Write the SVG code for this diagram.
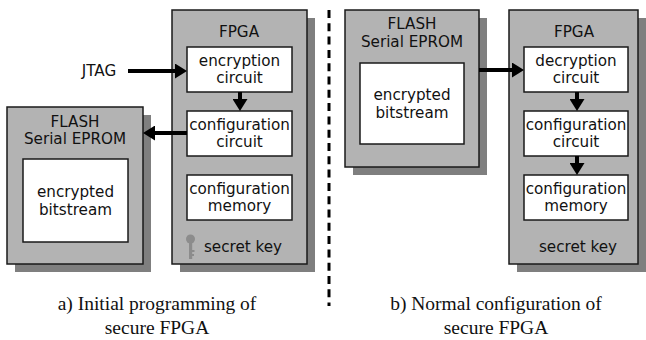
<svg xmlns="http://www.w3.org/2000/svg" width="646" height="340" viewBox="0 0 646 340">
<style>
.sh{fill:#7f7f7f}
.box{fill:#b3b3b3;stroke:#1a1a1a;stroke-width:1.5}
.in{fill:#ffffff;stroke:#1a1a1a;stroke-width:1.5}
.t{font-family:"DejaVu Sans",Verdana,sans-serif;font-size:15.2px;fill:#111;text-anchor:middle}
.cap{font-family:"Liberation Serif","Times New Roman",serif;font-size:19.5px;fill:#111;text-anchor:middle}
.ar{stroke:#000;stroke-width:4;fill:none;marker-end:url(#ah)}
</style>
<defs>
<marker id="ah" markerUnits="userSpaceOnUse" markerWidth="12" markerHeight="15" refX="0" refY="7.5" orient="auto">
<path d="M0,0 L12,7.5 L0,15 Z" fill="#000"/>
</marker>
</defs>
<rect width="646" height="340" fill="#fff"/>

<g id="fpga-a">
<rect class="sh" x="180" y="18" width="135" height="254"/>
<rect class="box" x="172" y="10" width="135" height="254"/>
<text class="t" x="239" y="37">FPGA</text>
</g>
<g id="enc-circuit">
<rect class="in" x="187" y="47" width="105" height="45"/>
<text class="t" x="239.5" y="66">encryption</text>
<text class="t" x="239.5" y="83">circuit</text>
</g>
<g id="cfg-circuit-a">
<rect class="in" x="187" y="111" width="105" height="45"/>
<text class="t" x="239.5" y="130">configuration</text>
<text class="t" x="239.5" y="147">circuit</text>
</g>
<g id="cfg-memory-a">
<rect class="in" x="187" y="175" width="105" height="45"/>
<text class="t" x="239.5" y="194">configuration</text>
<text class="t" x="239.5" y="211">memory</text>
</g>
<g id="key-a">
<circle cx="190.5" cy="239" r="4.5" fill="#8c8c8c"/>
<rect x="189" y="242" width="3.2" height="17" fill="#8c8c8c"/>
<rect x="192" y="250" width="2.5" height="2" fill="#8c8c8c"/>
<rect x="192" y="254" width="2" height="2" fill="#8c8c8c"/>
<text class="t" x="243" y="252">secret key</text>
</g>
<g id="flash-a">
<rect class="sh" x="15" y="115" width="136" height="157"/>
<rect class="box" x="7" y="107" width="136" height="157"/>
<text class="t" x="75" y="127">FLASH</text>
<text class="t" x="75" y="144">Serial EPROM</text>
<rect class="in" x="23" y="159" width="105" height="83"/>
<text class="t" x="75.5" y="197">encrypted</text>
<text class="t" x="75.5" y="215">bitstream</text>
</g>
<g id="jtag">
<text class="t" x="99" y="76">JTAG</text>
</g>

<g id="flash-b">
<rect class="sh" x="353" y="18" width="134" height="157"/>
<rect class="box" x="345" y="10" width="134" height="157"/>
<text class="t" x="412" y="29">FLASH</text>
<text class="t" x="412" y="47">Serial EPROM</text>
<rect class="in" x="360" y="63" width="104" height="81"/>
<text class="t" x="412" y="100">encrypted</text>
<text class="t" x="412" y="118">bitstream</text>
</g>
<g id="fpga-b">
<rect class="sh" x="517" y="18" width="129" height="254"/>
<rect class="box" x="509" y="10" width="129" height="254"/>
<text class="t" x="574" y="37">FPGA</text>
<text class="t" x="578" y="252">secret key</text>
</g>
<g id="dec-circuit">
<rect class="in" x="524" y="47" width="104" height="45"/>
<text class="t" x="576" y="66">decryption</text>
<text class="t" x="576" y="83">circuit</text>
</g>
<g id="cfg-circuit-b">
<rect class="in" x="524" y="111" width="104" height="45"/>
<text class="t" x="576" y="130">configuration</text>
<text class="t" x="576" y="147">circuit</text>
</g>
<g id="cfg-memory-b">
<rect class="in" x="524" y="175" width="104" height="45"/>
<text class="t" x="576" y="194">configuration</text>
<text class="t" x="576" y="211">memory</text>
</g>

<g id="connectors">
<line class="ar" x1="128" y1="71" x2="175" y2="71"/>
<line class="ar" x1="240" y1="92" x2="240" y2="99"/>
<line class="ar" x1="187" y1="133" x2="155" y2="133"/>
<line class="ar" x1="479" y1="70" x2="512" y2="70"/>
<line class="ar" x1="577" y1="92" x2="577" y2="99"/>
<line class="ar" x1="577" y1="156" x2="577" y2="163"/>
</g>

<line id="divider" x1="329" y1="10" x2="329" y2="306" stroke="#000" stroke-width="3" stroke-dasharray="8,5.3"/>

<g id="captions">
<text class="cap" x="157" y="310">a) Initial programming of</text>
<text class="cap" x="157" y="334">secure FPGA</text>
<text class="cap" x="496" y="310">b) Normal configuration of</text>
<text class="cap" x="496" y="334">secure FPGA</text>
</g>
</svg>
